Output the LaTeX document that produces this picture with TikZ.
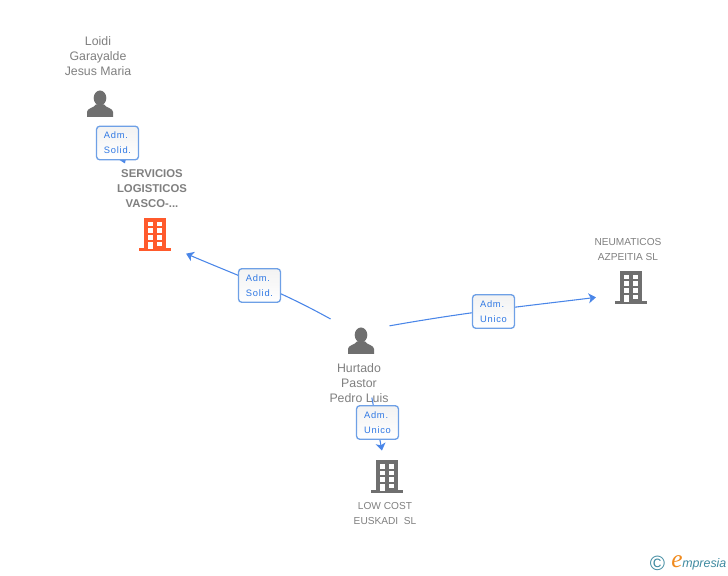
\documentclass[tikz,border=0pt]{standalone}
\usepackage{fontspec}
\setmainfont{Liberation Sans}
\newfontfamily\lblfont[LetterSpace=8]{Liberation Sans}
\newfontfamily\logofont{Liberation Serif}
\usetikzlibrary{arrows.meta}
\definecolor{linkblue}{HTML}{4A86E8}
\definecolor{boxblue}{HTML}{6EA0E6}
\definecolor{lbltext}{HTML}{2F78E4}
\definecolor{icongrey}{HTML}{6F6F6F}
\definecolor{txtgrey}{HTML}{7F7F7F}
\definecolor{mainorange}{HTML}{FF5A2C}
\definecolor{logoteal}{HTML}{3F8AA0}
\definecolor{logoorange}{HTML}{F08A1E}
\tikzset{
  persontxt/.style={align=center,text=txtgrey,inner sep=0pt,font=\fontsize{9.25}{11.25}\selectfont},
  companytxt/.style={align=center,text=txtgrey,inner sep=0pt,font=\fontsize{7.6}{11.25}\selectfont},
  maintxt/.style={align=center,text=txtgrey,inner sep=0pt,font=\bfseries\fontsize{8.5}{11.25}\selectfont},
  relbox/.style={draw=boxblue,line width=1pt,rounded corners=2.5pt,top color=black!5,bottom color=white,
    minimum width=31.5pt,minimum height=25.2pt,inner sep=0pt,align=left,text=lbltext,
    font=\lblfont\fontsize{7}{11.25}\selectfont},
  link/.style={-{Stealth[length=5.5pt,width=7.5pt,inset=1.5pt]},draw=linkblue,line width=.8pt},
  personicon/.style={circle,minimum size=48pt,inner sep=0pt,path picture={
    \begin{scope}[shift={(path picture bounding box.center)}]
      \fill[icongrey] (0,6) ellipse (6.3 and 7.5);
      \fill[icongrey] (-13,-13) -- (13,-13) -- (13,-8) .. controls (13,-4) and (6,-4) .. (4,-.5)
        -- (-4,-.5) .. controls (-6,-4) and (-13,-4) .. (-13,-8) -- cycle;
    \end{scope}}},
  buildicon/.style={circle,minimum size=54pt,inner sep=0pt,path picture={
    \begin{scope}[shift={(path picture bounding box.center)}]
      \fill[#1] (-11,-14) rectangle (11,17);
      \fill[#1] (-16,-16) rectangle (16,-13);
      \foreach \wy in {8.5,2,-4.7,-11.3} {
        \fill[white] (-7.3,\wy) rectangle +(5,4.5);
        \fill[white] (2.3,\wy) rectangle +(5,4.5);
      }
      \fill[white] (-7.3,-14) rectangle (-2.3,-8);
    \end{scope}}}
}
\begin{document}
\begin{tikzpicture}[x=.75pt,y=.75pt]
  \useasboundingbox (0,0) rectangle (728,575);

  \node[personicon] (loidi) at (100,471) {};
  \node[personicon] (hurtado) at (361,234) {};
  \node[buildicon=mainorange] (servicios) at (155,340) {};
  \node[buildicon=icongrey] (neumaticos) at (631,287) {};
  \node[buildicon=icongrey] (lowcost) at (387,98) {};

  \node[persontxt] (loiditxt) at (98,519) {Loidi\\Garayalde\\Jesus Maria};
  \node[persontxt] (hurtadotxt) at (359,192) {Hurtado\\Pastor\\Pedro Luis};
  \node[maintxt] (serviciostxt) at (152,386) {SERVICIOS\\LOGISTICOS\\VASCO-...};
  \node[companytxt] (neumaticostxt) at (628,325) {NEUMATICOS\\AZPEITIA SL};
  \node[companytxt] (lowcosttxt) at (385,61.5) {LOW COST\\EUSKADI\ \ SL};

  \draw[link,shorten <=-6pt,shorten >=31pt] (loidi) -- (servicios);
  \draw[link,shorten <=4pt] (hurtado.143) to[out=151,in=-23] (servicios.-31);
  \draw[link] (hurtado.28) to[out=10,in=187] (neumaticos.195);
  \draw[link,shorten <=19pt,shorten >=-7pt] (hurtado) -- (lowcost);

  \node[relbox] (rel1) at (117.5,432) {Adm.\\Solid.};
  \node[relbox] (rel2) at (259.5,289.5) {Adm.\\Solid.};
  \node[relbox] (rel3) at (493.5,263.5) {Adm.\\Unico};
  \node[relbox] (rel4) at (377.5,152.5) {Adm.\\Unico};

  \node[text=logoteal,inner sep=0pt,font=\fontsize{15.5}{16}\selectfont] (logoc) at (657.5,12) {©};
  \node[text=logoorange,inner sep=0pt,font=\logofont\itshape\fontsize{19}{19}\selectfont] (logoe) at (677,13) {e};
  \node[text=logoteal,inner sep=0pt,anchor=west,font=\itshape\fontsize{9.3}{10}\selectfont] (logotxt) at (682,10.5) {mpresia};
\end{tikzpicture}
\end{document}
